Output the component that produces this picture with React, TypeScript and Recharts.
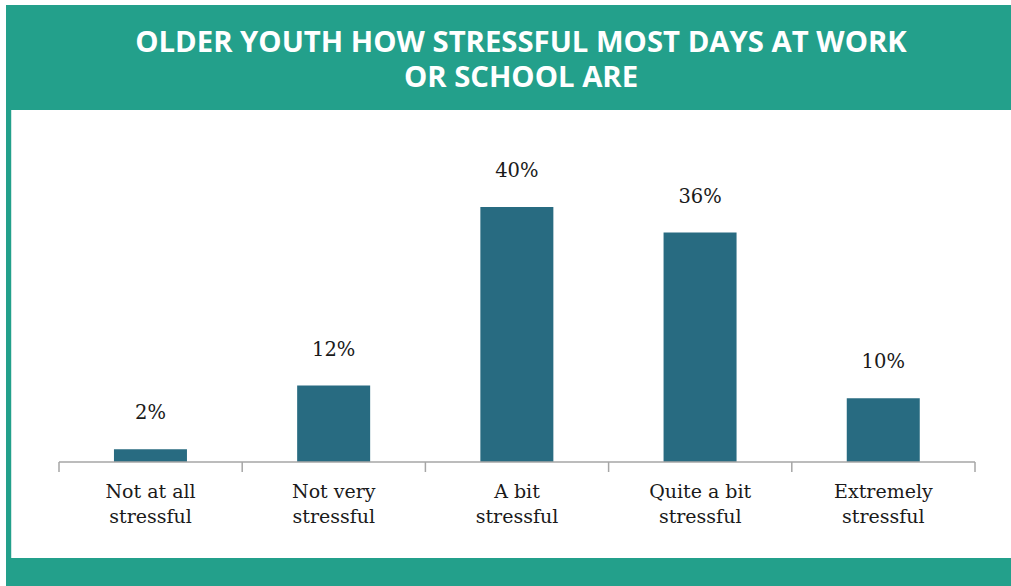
import React from "react";
import { BarChart, Bar, XAxis, YAxis, LabelList } from "recharts";

const categories = ["Not at all\nstressful", "Not very\nstressful", "A bit\nstressful", "Quite a bit\nstressful", "Extremely\nstressful"];
const values = [2, 12, 40, 36, 10];
const title = ["OLDER YOUTH HOW STRESSFUL MOST DAYS AT WORK", "OR SCHOOL ARE"];

const data = categories.map((c, i) => ({ name: c, value: values[i] }));

const TEAL = "#23A08B";
const BAR = "#286B81";
const AXIS = "#A6A6A6";
const FONT = "'DejaVu Serif', serif";

const W = 1011;
const H = 586;
const ML = 59;
const MR = 36;
const BAND = (W - ML - MR) / categories.length;

const Tick = (props: any) => {
  const { x, y, payload, index } = props;
  const lines = String(payload.value).split("\n");
  return (
    <g>
      <line x1={x - BAND / 2} x2={x - BAND / 2} y1={y - 8} y2={y + 2} stroke={AXIS} strokeWidth={1.5} />
      {index === categories.length - 1 && (
        <line x1={x + BAND / 2} x2={x + BAND / 2} y1={y - 8} y2={y + 2} stroke={AXIS} strokeWidth={1.5} />
      )}
      <text x={x} y={y + 28} textAnchor="middle" fill="#1a1a1a" fontFamily={FONT} fontSize={19}>
        {lines.map((l, i) => (
          <tspan key={i} x={x} dy={i === 0 ? 0 : 25}>
            {l}
          </tspan>
        ))}
      </text>
    </g>
  );
};

export default function App() {
  return (
    <div style={{ position: "absolute", left: 0, top: 0, width: W, height: H, background: "#fff", overflow: "hidden" }}>
      <div style={{ position: "absolute", left: 6, top: 5, width: W - 6, height: H - 5, background: TEAL }} />
      <div style={{ position: "absolute", left: 11, top: 110, width: W - 11, height: 448, background: "#fff", borderLeft: "1px solid #cfe9e4", boxSizing: "border-box" }} />
      {title.map((t, i) => (
        <div
          key={i}
          style={{
            position: "absolute",
            left: 30,
            width: 982,
            top: 26.5 + i * 35,
            textAlign: "center",
            color: "#fff",
            fontFamily: "'Open Sans', sans-serif",
            fontWeight: 700,
            fontSize: 29.3,
            lineHeight: 1,
            whiteSpace: "nowrap",
          }}
        >
          {t}
        </div>
      ))}
      <div style={{ position: "absolute", left: 0, top: 0 }}>
        <BarChart width={W} height={H} data={data} margin={{ top: 143.25, right: MR, left: ML, bottom: 64 }} barCategoryGap="30%">
          <YAxis hide domain={[0, 50]} />
          <XAxis
            dataKey="name"
            height={60}
            axisLine={{ stroke: AXIS, strokeWidth: 1.5 }}
            tickLine={false}
            tick={<Tick />}
            interval={0}
          />
          <Bar dataKey="value" fill={BAR} isAnimationActive={false}>
            <LabelList
              dataKey="value"
              position="top"
              offset={30}
              formatter={(v: any) => `${v}%`}
              style={{ fontFamily: FONT, fontSize: 19.5, fill: "#1a1a1a" }}
            />
          </Bar>
        </BarChart>
      </div>
    </div>
  );
}
